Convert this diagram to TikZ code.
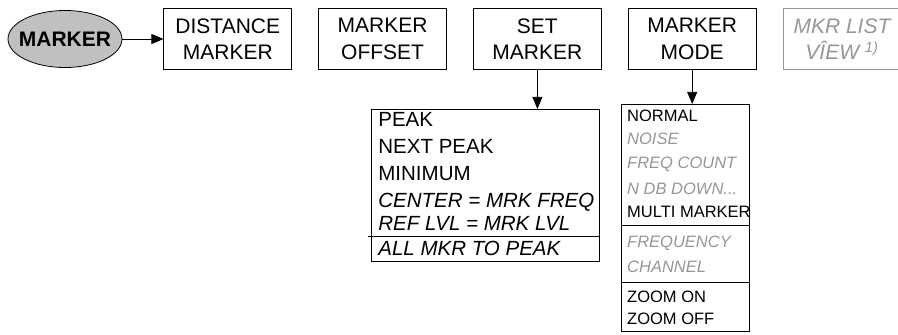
\documentclass[tikz,border=0pt]{standalone}
\usepackage{fontspec}
\setmainfont{Liberation Sans}
\usetikzlibrary{arrows.meta, positioning, calc, shapes.geometric}
\definecolor{softgray}{RGB}{192,192,192}
\definecolor{dimtext}{RGB}{150,150,150}
\newcommand{\keysize}{\fontsize{21}{26.5}\selectfont}
\newcommand{\setsize}{\fontsize{20.5}{24}\selectfont}
\newcommand{\modesize}{\fontsize{16.5}{20}\selectfont}
\newcommand{\threedots}{...}
\tikzset{
    menutree/.style={>={Triangle[length=12pt,width=10pt]}, line width=0.8pt, node distance=26pt},
    root/.style={draw, ellipse, fill=softgray, minimum width=114pt, minimum height=57pt, inner xsep=-8pt, inner ysep=0pt, font=\keysize\bfseries},
    softkey/.style={draw, minimum width=128pt, minimum height=61pt, inner sep=0pt, align=center, font=\keysize},
    softkeyoff/.style={softkey, draw=dimtext, text=dimtext, font=\keysize\itshape},
    submenu/.style={draw, inner sep=0pt},
    % entries of the drop-down lists, placed by their baseline
    setentry/.style={anchor=base west, inner sep=0pt, font=\setsize},
    setentryit/.style={setentry, font=\setsize\itshape},
    modeentry/.style={anchor=base west, inner sep=0pt, font=\modesize},
    modeentryoff/.style={modeentry, text=dimtext, font=\modesize\itshape},
}
\begin{document}
\begin{tikzpicture}[menutree]
    \useasboundingbox (0,0) rectangle (898pt,-335pt);

    \node[root]                                     (marker)  at (65pt,-39pt) {MARKER};
    \node[softkey, right=41pt of marker]            (dist)    {DISTANCE\\MARKER};
    \node[softkey, right=of dist]                   (offset)  {MARKER\\OFFSET};
    \node[softkey, right=of offset]                 (set)     {SET\\MARKER};
    \node[softkey, right=of set]                    (mode)    {MARKER\\MODE};
    \node[softkeyoff, minimum width=118pt, right=of mode] (mkrlist) {MKR LIST\\VÎEW \textsuperscript{1)}};

    \node[submenu, anchor=north east, minimum width=228pt, minimum height=152pt] (setlist)  at ($(set.south east)+(-2pt,-39pt)$) {};
    \node[submenu, anchor=north west, minimum width=128pt, minimum height=227pt] (modelist) at ($(mode.south west)+(-7pt,-34pt)$) {};

    \draw[->] (marker) -- (dist);
    \draw[->] (set) -- (set |- setlist.north);
    \draw[->] (mode) -- (mode |- modelist.north);

    % set marker list
    \foreach \name/\txt/\sty/\dy in {peak/PEAK/setentry/18pt, nextpeak/NEXT PEAK/setentry/45pt,
            minimum/MINIMUM/setentry/72pt, center/CENTER = MRK FREQ/setentryit/99pt,
            reflvl/REF LVL = MRK LVL/setentryit/122pt, allmkr/ALL MKR TO PEAK/setentryit/147pt}
        \node[\sty] (\name) at ($(setlist.north west)+(7pt,-\dy)$) {\txt};
    \draw ($(setlist.north west)+(-3pt,-127pt)$) -- ($(setlist.north east)+(0,-127pt)$);

    % marker mode list
    \foreach \name/\txt/\sty/\dy in {normal/NORMAL/modeentry/18pt, noise/NOISE/modeentryoff/41pt,
            freqcount/FREQ COUNT/modeentryoff/65pt, ndbdown/N DB DOWN\threedots/modeentryoff/91pt,
            multi/MULTI MARKER/modeentry/114pt, frequency/FREQUENCY/modeentryoff/144pt,
            channel/CHANNEL/modeentryoff/169pt, zoomon/ZOOM ON/modeentry/199pt,
            zoomoff/ZOOM OFF/modeentry/221pt}
        \node[\sty] (\name) at ($(modelist.north west)+(6pt,-\dy)$) {\txt};
    \draw ($(modelist.north west)+(0,-121pt)$) -- ($(modelist.north east)+(0,-121pt)$);
    \draw ($(modelist.north west)+(0,-178pt)$) -- ($(modelist.north east)+(0,-178pt)$);
\end{tikzpicture}
\end{document}
